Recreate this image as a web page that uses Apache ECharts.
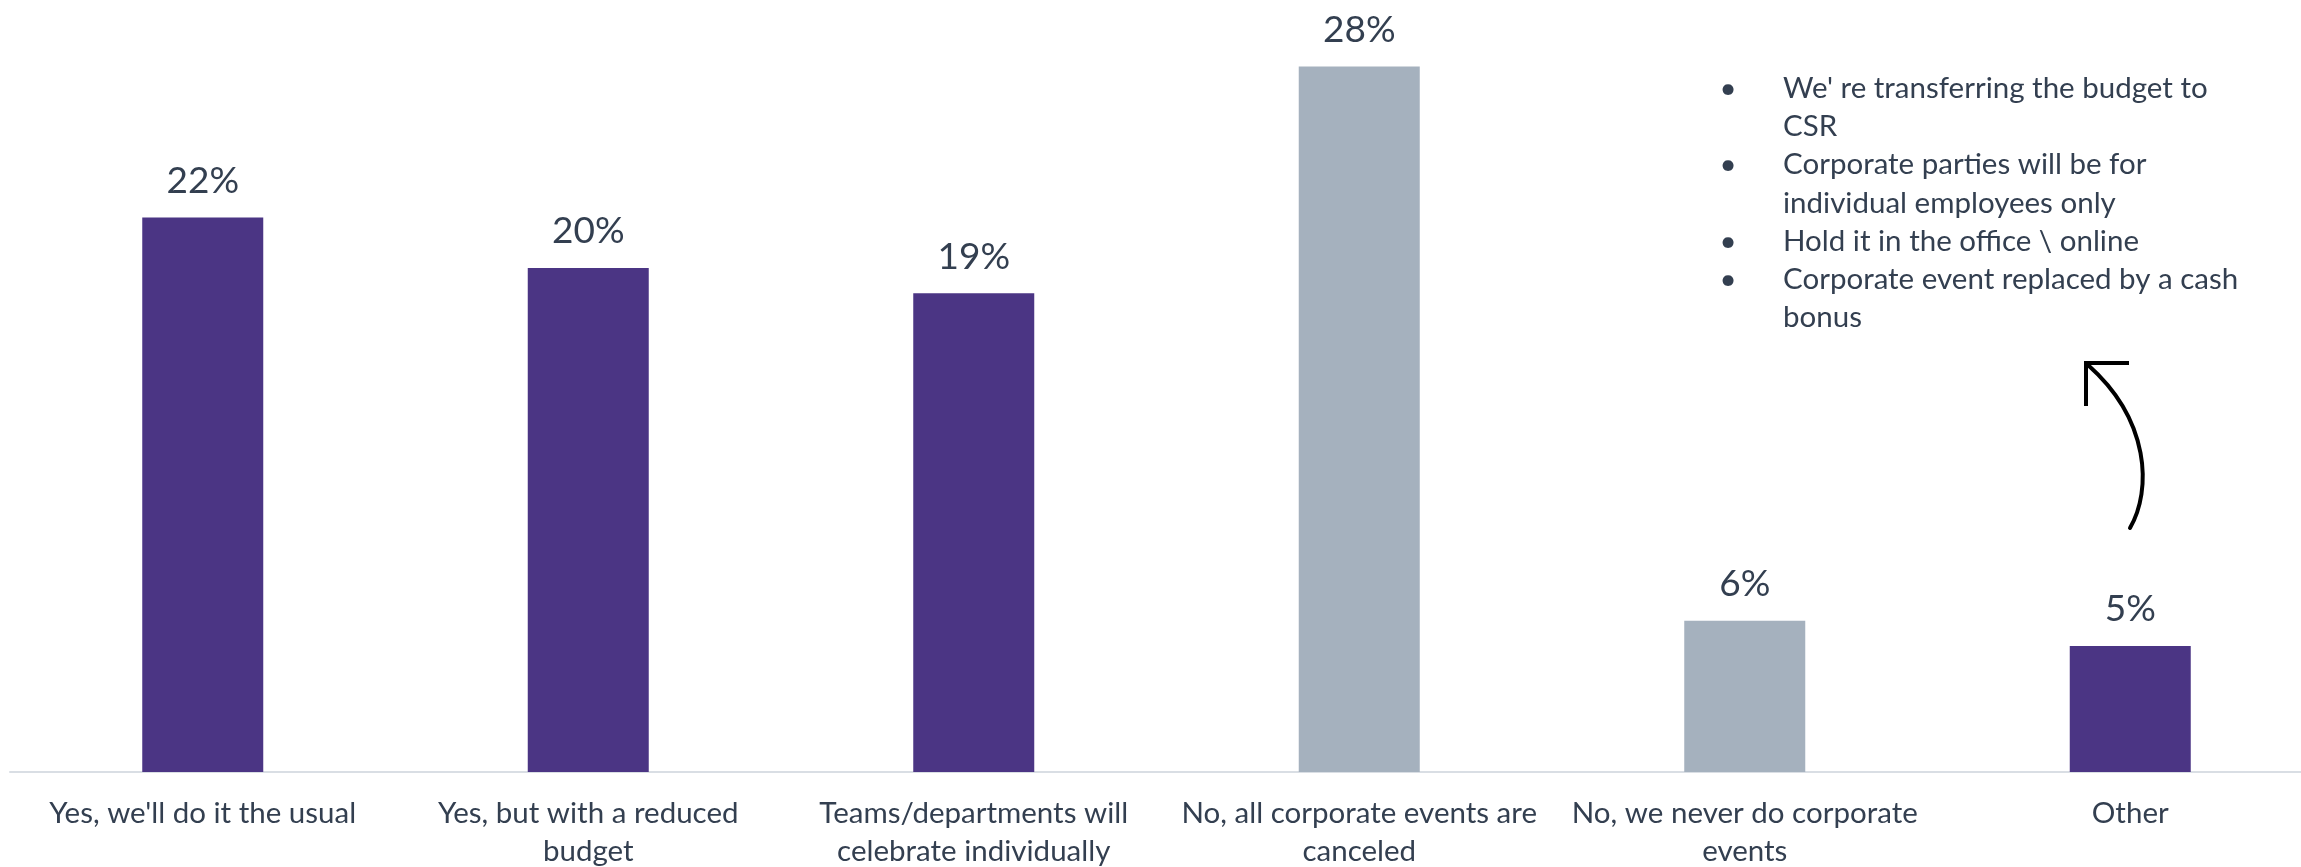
<!DOCTYPE html>
<html>
<head>
<meta charset="utf-8">
<title>Corporate events plans</title>
<script src="https://cdn.jsdelivr.net/npm/echarts@6/dist/echarts.min.js"></script>
<style>
  html, body { margin: 0; padding: 0; background: #ffffff; }
  #chart { width: 2301px; height: 867px; }
</style>
</head>
<body>
<div id="chart"></div>
<script>
// Survey answers (category labels, wrapped as displayed)
const categories = [
  "Yes, we'll do it the usual",
  "Yes, but with a reduced\nbudget",
  "Teams/departments will\ncelebrate individually",
  "No, all corporate events are\ncanceled",
  "No, we never do corporate\nevents",
  "Other"
];

// Share of respondents, %
const shares = [22, 20, 19, 28, 6, 5];

// Free-text answers grouped under "Other"
const otherAnswers = [
  "We' re transferring the budget to\nCSR",
  "Corporate parties will be for\nindividual employees only",
  "Hold it in the office \\ online",
  "Corporate event replaced by a cash\nbonus"
];

const PURPLE = '#4B3584';
const GREY = '#A5B1BE';
const TEXT = '#333F50';
const FONT = 'Lato, "Open Sans", sans-serif';

const chart = echarts.init(document.getElementById('chart'), null, { renderer: 'canvas' });

// Bullet column: one bullet per answer, blank rows for wrapped continuation lines
const bulletColumn = otherAnswers
  .map(a => ['\u2022'].concat(a.split('\n').slice(1).map(() => '')).join('\n'))
  .join('\n');
const answerColumn = otherAnswers.join('\n');

const listStyle = {
  font: '29.5px ' + FONT,
  fill: TEXT,
  lineHeight: 38.3,
  verticalAlign: 'top'
};

chart.setOption({
  animation: false,
  backgroundColor: '#ffffff',
  grid: {
    left: 10,
    right: -22,
    top: 16,
    bottom: 95,
    containLabel: false,
    outerBoundsMode: 'none'
  },
  xAxis: {
    type: 'category',
    data: categories,
    boundaryGap: true,
    axisLine: { show: true, lineStyle: { color: '#D9DEE4', width: 2 } },
    axisTick: { show: false },
    axisLabel: {
      interval: 0,
      margin: 22,
      color: TEXT,
      fontFamily: FONT,
      fontSize: 29.5,
      lineHeight: 38.5,
      align: 'center'
    },
    splitLine: { show: false }
  },
  yAxis: {
    type: 'value',
    min: 0,
    max: 30,
    show: false,
    splitLine: { show: false }
  },
  series: [{
    type: 'bar',
    data: shares,
    barWidth: 121,
    itemStyle: {
      color: p => (p.name.indexOf('No,') === 0 ? GREY : PURPLE)
    },
    label: {
      show: true,
      position: 'top',
      distance: 18,
      formatter: p => p.value + '%',
      color: TEXT,
      fontFamily: FONT,
      fontSize: 37
    }
  }],
  graphic: [
    {
      type: 'text',
      x: 1728,
      y: 69,
      style: Object.assign({ text: bulletColumn, align: 'center' }, listStyle)
    },
    {
      type: 'text',
      x: 1783,
      y: 69,
      style: Object.assign({ text: answerColumn, align: 'left' }, listStyle)
    },
    {
      type: 'bezierCurve',
      shape: { x1: 2130, y1: 528, cpx1: 2152, cpy1: 490, cpx2: 2150, cpy2: 420, x2: 2088, y2: 365 },
      style: { stroke: '#000000', lineWidth: 4, fill: null, lineCap: 'round' }
    },
    {
      type: 'polyline',
      shape: { points: [[2086, 406], [2086, 363], [2129, 363]] },
      style: { stroke: '#000000', lineWidth: 4, fill: null, lineCap: 'butt', lineJoin: 'miter' }
    }
  ]
});
</script>
</body>
</html>
